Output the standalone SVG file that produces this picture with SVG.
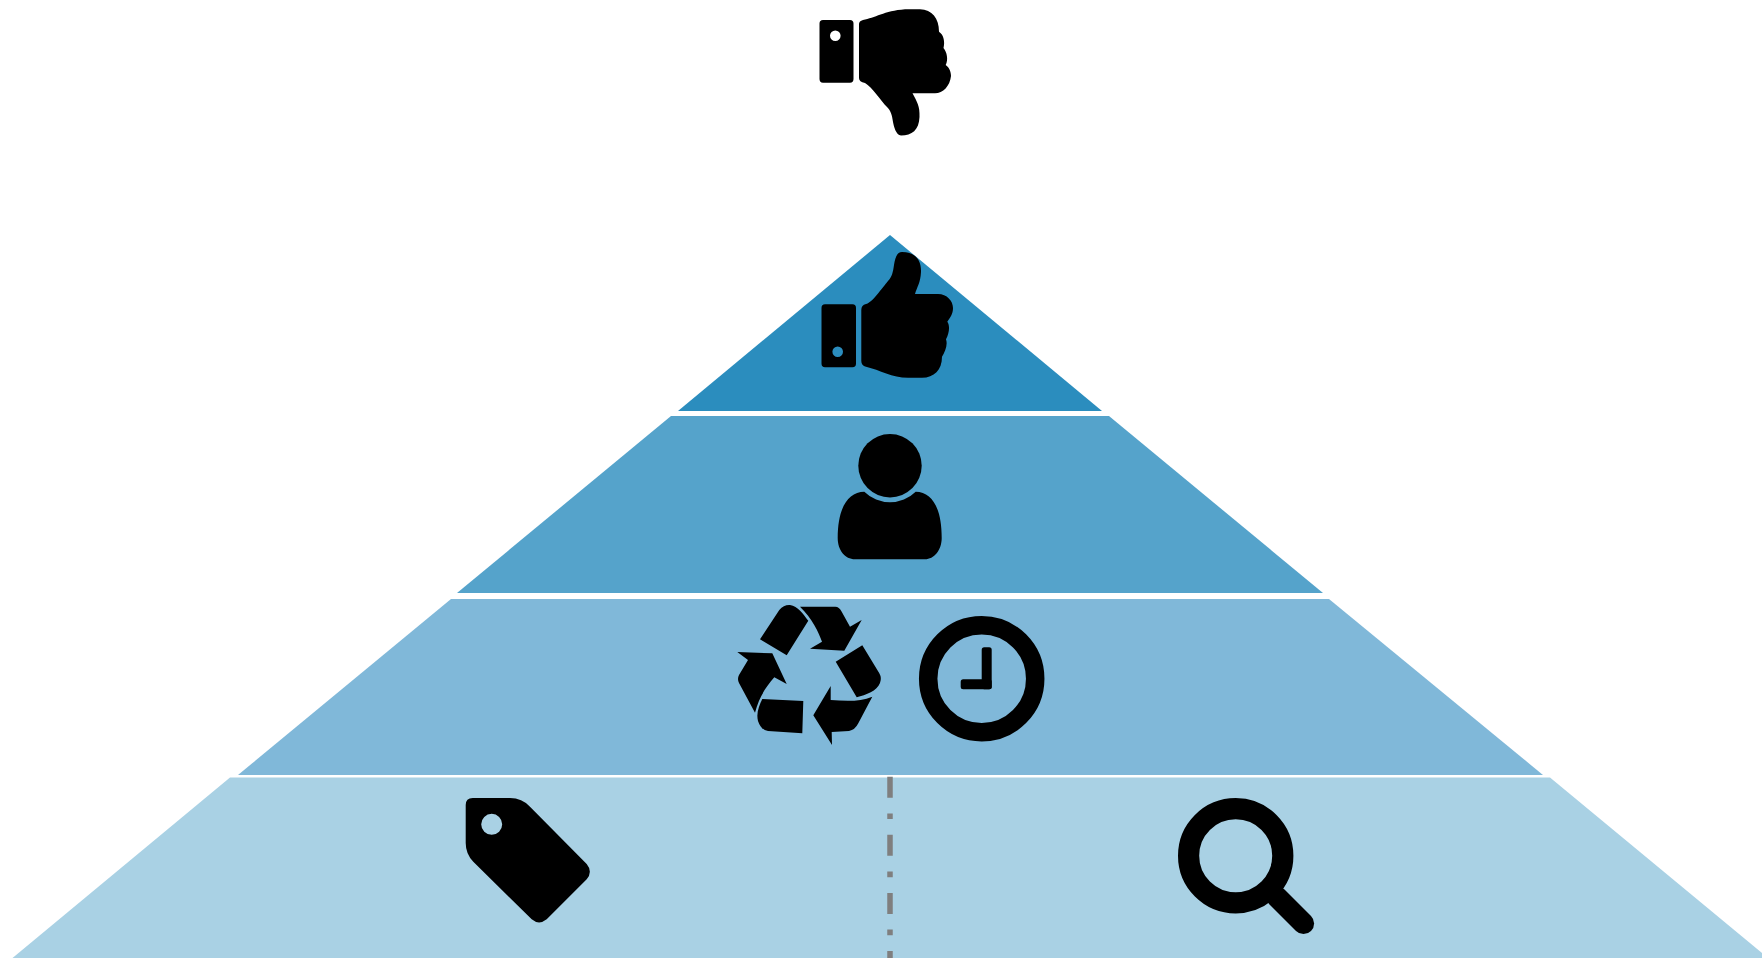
<svg xmlns="http://www.w3.org/2000/svg" width="1762" height="958" viewBox="0 0 1762 958">
<style>
.icon{fill:#000}
.ring{fill:none;stroke:#000}
.t1{fill:#2b8dbe}.t2{fill:#55a3cb}.t3{fill:#80b8d9}.t4{fill:#a9d1e4}
.divider{stroke:#7f7f7f;stroke-width:5.5;stroke-dasharray:21 15.7 5.7 15.7;fill:none}
</style>
<rect width="1762" height="958" fill="#fff"/>
<g id="tier-1"><polygon class="t1" points="890,235 1102,411 678,411"/></g>
<g id="tier-2"><polygon class="t2" points="671,416 1109,416 1323,593 457,593"/></g>
<g id="tier-3"><polygon class="t3" points="451,599 1329,599 1543,775 238,775"/></g>
<g id="tier-4"><polygon class="t4" points="230,777.5 1550,777.5 1768,958 12.500,958"/></g>
<g id="connectors"><path class="divider" d="M890 776.700V958"/></g>
<g id="thumbs-down">
<path class="icon" fill-rule="evenodd" d="M823 20H850Q853.500 20 853.500 23.500V79Q853.500 82.700 850 82.700H823Q819.500 82.700 819.500 79V23.500Q819.500 20 823 20ZM840.600 35.700A5.300 5.300 0 1 0 830 35.700A5.300 5.300 0 1 0 840.600 35.700Z"/>
<path class="icon" d="M859 24Q859 21 863 20C875 18 884 11 905 9.300H920C932 10 939 18 939 31.700C944 35 945 42 943.500 48C947 52 948.500 60 945.700 65C950 68 951 73 951 76C950 86 943 93.300 935 93.300H912.500C917 102 920 106 919.500 117C919 130 912 135.500 901 135.500C896 135 894 127 893 122C892 115 891 111 887 107C881 101 872 87 865 83Q859 82 859 78Z"/>
</g>
<g id="thumbs-up">
<path class="icon" fill-rule="evenodd" d="M825 304.300H852.500Q856 304.300 856 308V363.500Q856 367.300 852.500 367.300H825Q821.500 367.300 821.500 363.500V308Q821.500 304.300 825 304.300ZM843 351.700A5.300 5.300 0 1 0 832.400 351.700A5.300 5.300 0 1 0 843 351.700Z"/>
<path class="icon" d="M861.300 310Q861.300 305 866 304C872 303 882 288 888 281C892 277 893 272 894 265C895 258 897 252 902 252C915 252 921.500 260 921 272C920.500 283 917 287 915 294H938C947 294 953 301 953 308C953 314 950 318 947.300 321.700C950 325 949.500 333 946 339.300C948 345 945 352 942 356.700C942 370 934 377.700 922 377.700H908C892 377.700 880 370 866 366.700Q861.300 365.500 861.300 361Z"/>
</g>
<g id="person">
<circle class="icon" cx="890" cy="465.700" r="31.700"/>
<path class="icon" d="M864.300 491.700A36.700 36.700 0 0 0 915.700 491.700C932 491.700 941.700 508 941.700 538C941.700 550 934 559.300 925 559.300H855C845 559.300 837.700 550 837.700 538C837.700 508 848 491.700 864.300 491.700Z"/>
</g>
<g id="recycle">
<path class="icon" d="M760 639.300L779.300 610Q784 604.500 790 605C798 606 803 614 808.300 620.700L786.700 655.300Z"/>
<path class="icon" d="M800 606.700H835Q839 606.500 841.700 611.700L850 626.700L861.700 620L844.300 650.700L810 648.700L822 641.700C819 633 812 618 800 606.700Z"/>
<path class="icon" d="M835.700 661.700L862.300 645.300L879.300 673.300Q882 678 880 683C877 691 866 695 856.700 697.300Z"/>
<path class="icon" d="M872.300 696.700L858.300 723.300Q855 730 849 731L831.700 732L832 745L813.300 715.300L830.700 686V700C845 701 860 702 872.300 696.700Z"/>
<path class="icon" d="M762.300 699L803.300 701L802.300 733.300L768 731Q761 730 758 721C756 713 759 706 762.300 699Z"/>
<path class="icon" d="M737.300 652L772.300 653.300L786.700 684L774.300 677.300C766 687 759 697 755 712.700L739 683Q737 679 739 675L748 660Z"/>
</g>
<g id="clock">
<circle class="ring" cx="981.700" cy="678.700" r="53.500" stroke-width="18.500"/>
<rect class="icon" x="981.700" y="647.300" width="10" height="42" rx="2.500"/>
<rect class="icon" x="960.700" y="679.300" width="31" height="10" rx="2.500"/>
</g>
<g id="tag">
<path class="icon" fill-rule="evenodd" d="M472.700 798H510Q522 798 530 806.700L586.700 864Q593 871.700 586.700 879.300L546.700 919.300Q539 925.500 531.700 919.300L473.300 861.700Q465.700 854 465.700 843V805Q465.700 798 472.700 798ZM502.200 824.300A10.500 10.500 0 1 0 481.200 824.300A10.500 10.500 0 1 0 502.200 824.300Z"/>
</g>
<g id="magnifier">
<circle class="ring" cx="1235.700" cy="855.700" r="47.100" stroke-width="21.200"/>
<path class="ring" stroke-width="21.200" stroke-linecap="round" d="M1277 897L1303.500 923.500"/>
</g>
</svg>
